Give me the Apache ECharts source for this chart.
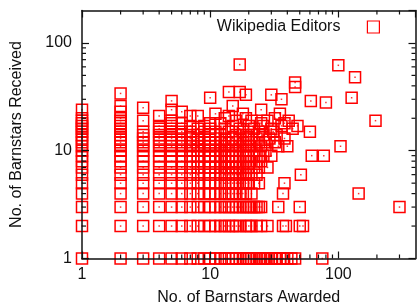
<!DOCTYPE html>
<html lang="en">

<head>
  <meta charset="UTF-8">
  <title>Barnstars</title>
  <script src="https://cdn.jsdelivr.net/npm/echarts@6/dist/echarts.min.js"></script>
  <style>
    html, body { margin: 0; padding: 0; background: #fff; }
  </style>
</head>

<body>
  <div id="chart" style="width: 417px; height: 307px;"></div>
  <script>
    // dense columns: awarded value -> list of received values
    const awardedCols = [1, 2, 3, 4, 5, 6, 7, 8, 9, 10, 11, 12, 13, 14, 15, 16, 17, 18, 19, 20, 21, 22, 23, 24, 25]
    const receivedCols = [
      [1, 2, 3, 4, 5, 6, 7, 8, 9, 10, 11, 12, 13, 14, 15, 16, 17, 18, 19, 20, 24],
      [1, 2, 3, 4, 5, 6, 7, 8, 9, 10, 11, 12, 13, 14, 15, 16, 17, 18, 19, 20, 23, 26, 34],
      [1, 2, 3, 4, 5, 6, 7, 8, 9, 10, 11, 12, 13, 14, 15, 19, 25],
      [1, 2, 3, 4, 5, 6, 7, 8, 9, 10, 11, 12, 13, 14, 15, 16, 17, 21],
      [1, 2, 3, 4, 5, 6, 7, 8, 9, 10, 11, 12, 13, 14, 15, 16, 17, 18, 19, 24, 29],
      [1, 2, 3, 4, 5, 6, 7, 8, 9, 10, 11, 12, 13, 14, 15, 16, 18, 23],
      [1, 2, 3, 4, 5, 6, 7, 8, 9, 10, 11, 12, 13, 14, 15, 17, 21],
      [1, 2, 3, 4, 5, 6, 7, 8, 9, 10, 11, 12, 13, 14, 16, 21],
      [1, 2, 3, 4, 5, 6, 7, 8, 9, 10, 11, 12, 13, 15, 17],
      [1, 2, 3, 4, 5, 6, 7, 8, 9, 10, 11, 12, 14, 16, 18, 31],
      [1, 2, 3, 4, 5, 6, 7, 8, 9, 10, 11, 12, 13, 15, 22],
      [1, 2, 3, 4, 5, 6, 7, 8, 9, 10, 12, 14, 18],
      [1, 2, 3, 4, 5, 6, 7, 8, 9, 10, 11, 13, 16, 20],
      [1, 2, 3, 4, 5, 6, 7, 8, 9, 10, 12, 15, 21, 35],
      [1, 2, 3, 4, 5, 6, 7, 8, 9, 11, 13, 17, 26],
      [1, 2, 3, 4, 5, 6, 7, 8, 10, 12, 14, 19],
      [1, 2, 3, 4, 5, 6, 7, 8, 9, 11, 13, 16, 35, 63],
      [1, 3, 4, 5, 6, 7, 8, 10, 12, 15, 22],
      [1, 2, 3, 4, 5, 6, 8, 9, 11, 14, 20, 33],
      [1, 2, 3, 5, 6, 7, 9, 10, 13, 17],
      [1, 2, 3, 4, 6, 8, 11, 14, 19],
      [1, 3, 5, 7, 9, 12, 16],
      [1, 2, 3, 6, 8, 10, 13],
      [1, 3, 5, 7, 9, 12, 15],
      [1, 2, 3, 8, 11, 18, 24]
    ]

    // sparse editors outside the dense block
    const sparseAwarded = [26, 27, 28, 30, 32, 33, 35, 37, 40, 43, 46, 75,
      28, 37, 39, 50, 53, 34, 50, 300, 37, 144, 38, 51, 28, 26, 30, 62, 77,
      27, 34, 40, 104, 27, 32, 29, 38, 26, 33, 31, 60, 30, 36, 48, 44, 26, 38, 41, 28, 195, 32,
      35, 36, 30, 61, 80, 127, 46, 46, 135, 100]
    const sparseReceived = [1, 1, 1, 1, 1, 1, 1, 1, 1, 1, 1, 1,
      2, 2, 2, 2, 2, 3, 3, 3, 4, 4, 5, 6, 7, 9, 9, 9, 9,
      10, 11, 11, 11, 12, 12, 13, 13, 14, 14, 15, 15, 16, 17, 17, 16, 17, 18, 19, 19, 19, 20,
      22, 30, 33, 29, 28, 31, 39, 43, 48, 62]

    // minor tick values (gnuplot style 2..9 per decade)
    const minorX = [2, 3, 4, 5, 6, 7, 8, 9, 20, 30, 40, 50, 60, 70, 80, 90, 200, 300]
    const minorY = [2, 3, 4, 5, 6, 7, 8, 9, 20, 30, 40, 50, 60, 70, 80, 90]

    const points = []
    awardedCols.forEach((x, i) => {
      receivedCols[i].forEach(y => points.push([x, y]))
    })
    sparseAwarded.forEach((x, i) => points.push([x, sparseReceived[i]]))

    const RED = '#ff0000'
    const INK = '#111'
    const FONT = 'Liberation Sans'

    const myChart = echarts.init(document.getElementById('chart'))

    function logAxis(extra) {
      return Object.assign({
        type: 'log',
        logBase: 10,
        z: 5,
        splitLine: { show: false },
        axisLine: { show: true, lineStyle: { color: INK, width: 1.5 } },
        axisTick: { show: true, inside: true, length: 7, lineStyle: { color: INK, width: 1.2 } },
        axisLabel: { showMaxLabel: false, color: INK, fontSize: 16, fontFamily: FONT },
        nameTextStyle: { color: INK, fontSize: 16, fontFamily: FONT }
      }, extra)
    }

    // short ticks on both sides of the frame
    function minorTicks(params, api) {
      const cs = params.coordSys
      const dir = api.value(2)
      const len = 4
      const style = { stroke: INK, lineWidth: 1.2 }
      if (dir === 0) {
        const x = api.coord([api.value(0), 1])[0]
        const yb = cs.y + cs.height
        return {
          type: 'group', children: [
            { type: 'line', shape: { x1: x, y1: yb, x2: x, y2: yb - len }, style },
            { type: 'line', shape: { x1: x, y1: cs.y, x2: x, y2: cs.y + len }, style }
          ]
        }
      }
      const y = api.coord([1, api.value(1)])[1]
      const xr = cs.x + cs.width
      return {
        type: 'group', children: [
          { type: 'line', shape: { x1: cs.x, y1: y, x2: cs.x + len, y2: y }, style },
          { type: 'line', shape: { x1: xr, y1: y, x2: xr - len, y2: y }, style }
        ]
      }
    }

    const tickData = minorX.map(v => [v, 1, 0]).concat(minorY.map(v => [1, v, 1]))

    const option = {
      animation: false,
      textStyle: { fontFamily: FONT },
      grid: { left: 82, right: 1.5, top: 10.5, bottom: 48.5, outerBoundsMode: 'none', containLabel: false },
      legend: {
        data: ['Wikipedia Editors'],
        right: 32,
        top: 14,
        align: 'right',
        itemWidth: 12,
        itemHeight: 12,
        selectedMode: false,
        itemStyle: { color: 'rgba(255,255,255,0)', borderColor: RED, borderWidth: 1.2 },
        textStyle: { color: INK, fontSize: 16, fontFamily: FONT, padding: [0, 22, 0, 0] }
      },
      xAxis: [
        logAxis({
          min: 1, max: 400, position: 'bottom',
          name: 'No. of Barnstars Awarded', nameLocation: 'middle', nameGap: 31,
          axisLabel: { showMaxLabel: false, margin: 8, color: INK, fontSize: 16, fontFamily: FONT }
        }),
        logAxis({ min: 1, max: 400, position: 'top', axisLabel: { show: false } })
      ],
      yAxis: [
        logAxis({
          min: 1, max: 200, position: 'left',
          name: 'No. of Barnstars Received', nameLocation: 'middle', nameGap: 57,
          axisLabel: { showMaxLabel: false, margin: 10, color: INK, fontSize: 16, fontFamily: FONT }
        }),
        logAxis({ min: 1, max: 200, position: 'right', axisLabel: { show: false } })
      ],
      series: [
        {
          name: 'Wikipedia Editors',
          type: 'scatter',
          symbol: 'rect',
          symbolSize: 11,
          clip: false,
          silent: true,
          data: points,
          itemStyle: { color: 'rgba(255,255,255,0)', borderColor: RED, borderWidth: 1.5, opacity: 1 },
          emphasis: { disabled: true }
        },
        {
          name: 'centres',
          type: 'scatter',
          symbol: 'rect',
          symbolSize: 1.5,
          clip: false,
          silent: true,
          data: points,
          itemStyle: { color: RED },
          emphasis: { disabled: true }
        },
        {
          name: 'minor ticks',
          type: 'custom',
          silent: true,
          z: 6,
          clip: false,
          renderItem: minorTicks,
          data: tickData
        }
      ]
    }

    myChart.setOption(option)
  </script>
</body>

</html>
